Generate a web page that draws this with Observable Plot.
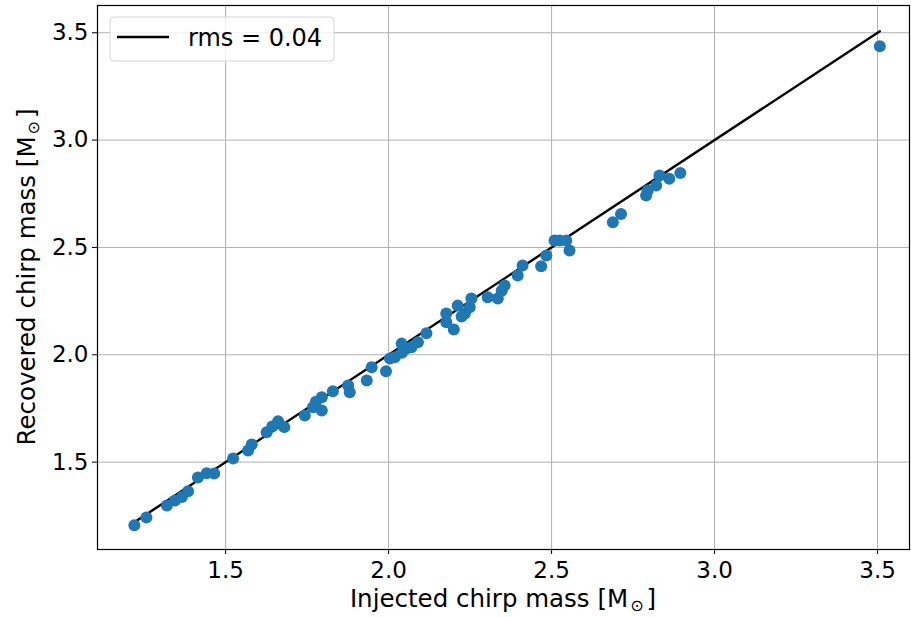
<!DOCTYPE html>
<html><head><meta charset="utf-8">
<script src="https://cdn.jsdelivr.net/npm/d3@7"></script>
<script src="https://cdn.jsdelivr.net/npm/@observablehq/plot@0.6"></script>
<style>body{margin:0;background:#fff} #chart svg{font-family:"DejaVu Sans",sans-serif}</style>
</head><body><div id="chart"></div>
<script>
const injected = [1.220,1.257,1.320,1.345,1.366,1.385,1.415,1.442,1.465,1.523,1.569,1.580,1.626,1.643,1.661,1.680,1.743,1.768,1.777,1.795,1.795,1.829,1.876,1.881,1.933,1.948,1.992,2.004,2.019,2.040,2.041,2.055,2.070,2.090,2.116,2.177,2.177,2.200,2.212,2.224,2.234,2.249,2.254,2.304,2.335,2.347,2.356,2.396,2.411,2.468,2.484,2.509,2.525,2.545,2.555,2.688,2.713,2.790,2.795,2.821,2.831,2.861,2.895,3.507];
const recovered = [1.206,1.242,1.298,1.321,1.337,1.364,1.428,1.448,1.447,1.517,1.554,1.582,1.639,1.666,1.690,1.663,1.717,1.756,1.781,1.740,1.802,1.830,1.857,1.826,1.880,1.942,1.923,1.983,1.989,2.052,2.010,2.029,2.035,2.058,2.100,2.192,2.152,2.118,2.229,2.178,2.192,2.221,2.262,2.268,2.262,2.298,2.323,2.369,2.416,2.412,2.462,2.532,2.532,2.532,2.486,2.617,2.656,2.742,2.765,2.788,2.835,2.820,2.847,3.437];
const xTicks = [1.5, 2.0, 2.5, 3.0, 3.5];
const yTicks = [1.5, 2.0, 2.5, 3.0, 3.5];
const xLabel = "Injected chirp mass [M";
const yLabel = "Recovered chirp mass [M";
const legendLabel = "rms = 0.04";

const points = injected.map((x, i) => ({x, y: recovered[i]}));
const lo = d3.min(injected), hi = d3.max(injected);
const lineData = [{x: lo, y: lo}, {x: hi, y: hi}];

const W = 911, H = 617;
const plot = Plot.plot({
  width: W, height: H,
  marginLeft: 97, marginRight: 2, marginTop: 5, marginBottom: 68,
  style: {fontSize: "24px", fontFamily: "DejaVu Sans", background: "#fff", color: "#000"},
  x: {domain: [1.107, 3.598]},
  y: {domain: [1.093, 3.627]},
  marks: [
    Plot.gridX(xTicks, {stroke: "#b0b0b0", strokeOpacity: 1, strokeWidth: 1}),
    Plot.gridY(yTicks, {stroke: "#b0b0b0", strokeOpacity: 1, strokeWidth: 1}),
    Plot.axisX({ticks: xTicks, tickFormat: d3.format(".1f"), tickSize: 5, tickPadding: 7, label: null, fontSize: 23}),
    Plot.axisY({ticks: yTicks, tickFormat: d3.format(".1f"), tickSize: 5, tickPadding: 4, label: null, fontSize: 23}),
    Plot.line(lineData, {x: "x", y: "y", stroke: "#000", strokeWidth: 2.4}),
    Plot.dot(points, {x: "x", y: "y", r: 6, fill: "#1f77b4", stroke: "none"}),
    Plot.frame({stroke: "#000", strokeWidth: 1.2})
  ]
});
document.getElementById("chart").append(plot);

const svg = d3.select(plot);
const cx = (97 + (W - 2)) / 2, cy = (5 + (H - 68)) / 2;
function addLabel(g, txt) {
  g.append("tspan").text(txt);
  g.append("tspan").attr("font-size", "16px").attr("dy", "4").attr("dx", "2").text("\u2299");
  g.append("tspan").attr("dy", "-4").attr("dx", "3").text("]");
}
const xl = svg.append("text").attr("x", cx).attr("y", 607).attr("text-anchor", "middle")
  .attr("font-size", "24.5px").attr("fill", "#000");
addLabel(xl, xLabel);
const yl = svg.append("text").attr("transform", `translate(35,${cy}) rotate(-90)`).attr("text-anchor", "middle")
  .attr("font-size", "24.5px").attr("fill", "#000");
addLabel(yl, yLabel);

const lg = svg.append("g");
lg.append("rect").attr("x", 110).attr("y", 17).attr("width", 224).attr("height", 44).attr("rx", 4)
  .attr("fill", "#fff").attr("fill-opacity", 0.8).attr("stroke", "#d6d6d6");
lg.append("line").attr("x1", 117).attr("x2", 169).attr("y1", 37).attr("y2", 37).attr("stroke", "#000").attr("stroke-width", 2.4);
lg.append("text").attr("x", 188).attr("y", 46).attr("text-anchor", "start").attr("font-size", "24px").attr("fill", "#000").text(legendLabel);
</script></body></html>
